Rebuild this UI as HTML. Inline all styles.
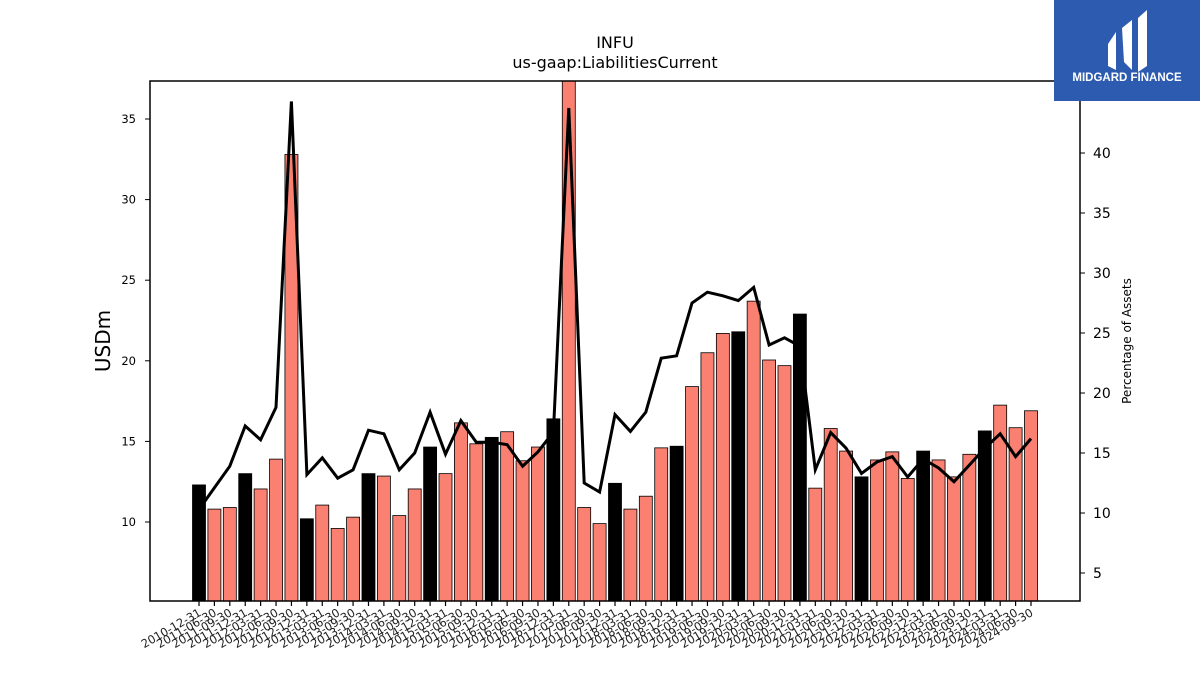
<!DOCTYPE html>
<html><head><meta charset="utf-8"><style>
body{margin:0;background:#fff;width:1200px;height:675px;overflow:hidden;font-family:"Liberation Sans","DejaVu Sans",sans-serif}
svg text{font-family:"DejaVu Sans","Liberation Sans",sans-serif}
</style></head><body>
<svg id="chart" width="1200" height="675" xmlns="http://www.w3.org/2000/svg">
<text x="615" y="48" font-size="16" text-anchor="middle">INFU</text>
<text x="615" y="68" font-size="16" text-anchor="middle">us-gaap:LiabilitiesCurrent</text>
<g id="bars"></g>
<g id="xticks"></g>
<g id="ly"></g>
<g id="ry"></g>
<path id="line" fill="none" stroke="#000" stroke-width="3"/>
<rect x="150" y="81" width="930" height="520" fill="none" stroke="#000" stroke-width="1.5"/>
<text transform="translate(110,341) rotate(-90)" font-size="20" text-anchor="middle">USDm</text>
<text transform="translate(1131,341) rotate(-90)" font-size="12" text-anchor="middle">Percentage of Assets</text>
<g>
<rect x="1054" y="0" width="146" height="101" fill="#2d5bb0"/>
<path d="M1108 44 L1116 32 L1116 70 L1108 66 Z M1122 28 L1132 20 L1132 70 L1124 62 Z M1138 18 L1147 10 L1147 66 L1138 72 Z" fill="#fff"/>
<text x="1127" y="81" font-size="11.5" font-weight="bold" fill="#fff" text-anchor="middle" style="font-family:'Liberation Sans',sans-serif">MIDGARD FINANCE</text>
</g>
</svg>
<script>
const dates=["2010-12-31","2011-06-30","2011-09-30"];
for(let y=2011;y<=2024;y++){for(const q of ["03-31","06-30","09-30","12-31"]){const d=y+"-"+q;if(d>"2011-09-30"&&d<="2024-09-30")dates.push(d);}}
const liabilities=[12.3,10.8,10.9,13.0,12.05,13.9,32.8,10.2,11.05,9.6,10.3,13.0,12.85,10.4,12.05,14.65,13.0,16.15,14.85,15.25,15.6,13.8,14.65,16.4,37.4,10.9,9.9,12.4,10.8,11.6,14.6,14.7,18.4,20.5,21.7,21.8,23.7,20.05,19.7,22.9,12.1,15.8,14.4,12.8,13.85,14.35,12.7,14.4,13.85,12.8,14.2,15.65,17.25,15.85,16.9];
const pctAssets=[10.3,12.1,13.9,17.25,16.1,18.8,44.3,13.2,14.6,12.9,13.6,16.9,16.6,13.6,15.0,18.4,14.9,17.7,15.9,15.9,15.7,13.9,15.1,16.75,43.75,12.5,11.75,18.2,16.8,18.4,22.9,23.1,27.5,28.4,28.1,27.7,28.8,24.0,24.6,23.9,13.6,16.7,15.4,13.3,14.25,14.7,13.0,14.5,13.75,12.6,14.0,15.4,16.6,14.7,16.2];
const leftTicks=[10,15,20,25,30,35];
const rightTicks=[5,10,15,20,25,30,35,40];
const NS="http://www.w3.org/2000/svg";
const plotTop=81,plotBot=601;
const yL=v=>522-(v-10)*16.12;
const yR=v=>573-(v-5)*12;
const xS=i=>199+i*(1031-199)/(dates.length-1);
function mk(t,a,p){const e=document.createElementNS(NS,t);for(const k in a)e.setAttribute(k,a[k]);p.appendChild(e);return e;}
const bars=document.getElementById('bars'),xt=document.getElementById('xticks');
dates.forEach((d,i)=>{
 const x=xS(i),yt=Math.max(plotTop,yL(liabilities[i]));
 const fy=d.endsWith("12-31");
 const r=mk('rect',{x:x-6.5,y:yt,width:13,height:plotBot-yt,fill:fy?'#000':'#fa8072',stroke:'#000','stroke-width':0.8},bars);
 
 
 mk('line',{x1:x,x2:x,y1:plotBot,y2:plotBot+5,stroke:'#000','stroke-width':1.2},xt);
 const t=mk('text',{transform:`translate(${x+3},${plotBot+14}) rotate(-30)`,'font-size':11.5,'text-anchor':'end',fill:'#222'},xt);
 t.textContent=d;
 
 
});
const ly=document.getElementById('ly');
leftTicks.forEach(v=>{const y=yL(v);mk('line',{x1:145,x2:150,y1:y,y2:y,stroke:'#000'},ly);const t=mk('text',{x:136,y:y+4,'font-size':11.5,'text-anchor':'end'},ly);t.textContent=v;
 
 });
const ry=document.getElementById('ry');
rightTicks.forEach(v=>{const y=yR(v);mk('line',{x1:1080,x2:1085,y1:y,y2:y,stroke:'#000'},ry);const t=mk('text',{x:1093,y:y+5,'font-size':14},ry);t.textContent=v;
 
 });
document.getElementById('line').setAttribute('d',pctAssets.map((v,i)=>(i?'L':'M')+xS(i).toFixed(1)+' '+yR(v).toFixed(1)).join(' '));
</script>
</body></html>
